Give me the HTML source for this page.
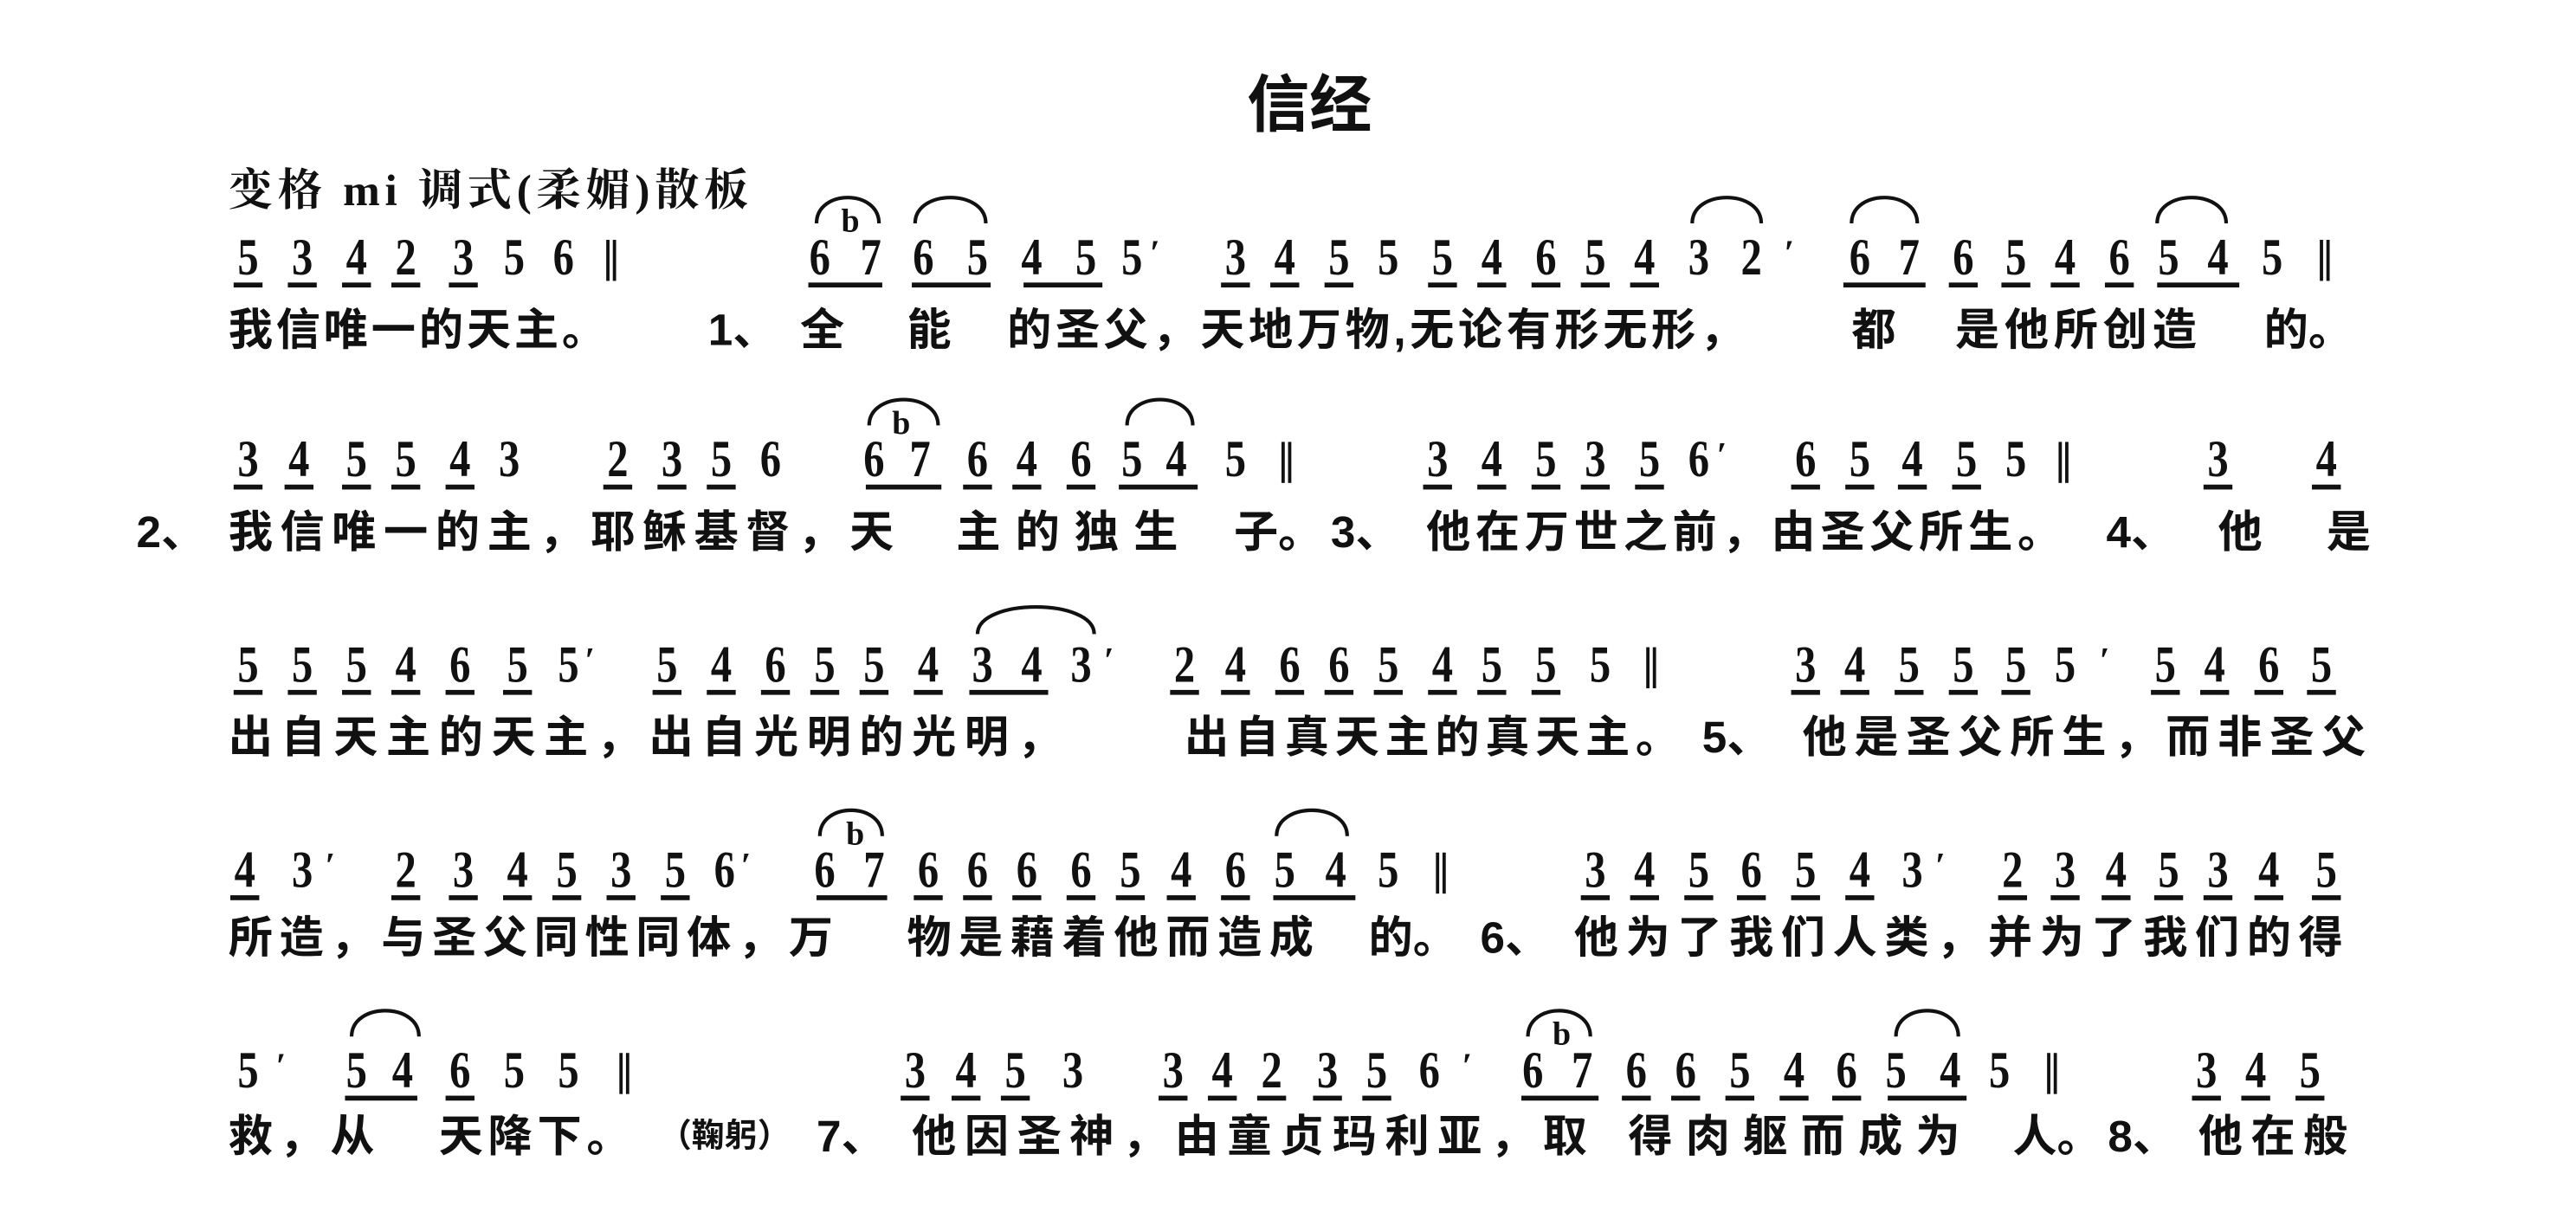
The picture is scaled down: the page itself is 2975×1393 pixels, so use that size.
<!DOCTYPE html>
<html><head><meta charset="utf-8">
<style>
html,body{margin:0;padding:0;background:#fff;width:2975px;height:1392px;overflow:hidden}
.s{position:absolute;left:0;top:0;width:1568px;height:734px;transform:scale(1.8974);transform-origin:0 0;color:#111}
.r{position:absolute;left:0;width:1568px;height:0}
.n{position:absolute;top:-17px;width:22px;margin-left:-11px;text-align:center;font:bold 32px/31px "Liberation Serif",serif;height:31px;transform:scaleX(.8)}
.u{border-bottom:3px solid #111}
.p{position:absolute;top:-17px;font:bold 22px/26px "Liberation Serif",serif}
.bar{position:absolute;top:-12px;width:6px;height:25px;border-left:2px solid #111;border-right:2px solid #111;margin-left:-4px;box-sizing:border-box}
.g{position:absolute;top:14px;height:2.6px;background:#111}
.b{position:absolute;top:-33px;font:bold 20px/20px "Liberation Serif",serif;margin-left:-5px}
.y{position:absolute;top:-15px;font:bold 27px/30px "Liberation Sans","Noto Sans CJK SC",sans-serif;white-space:nowrap}
svg{position:absolute;left:0;top:0}
</style></head><body>
<div class="s">
<div style="position:absolute;left:759px;top:42px;font:bold 38px/46px 'Liberation Sans','Noto Sans CJK SC',sans-serif">信经</div>
<div style="position:absolute;left:139px;top:101px;font:bold 27px/30px 'Liberation Serif','Noto Serif CJK SC',serif;letter-spacing:3px;white-space:nowrap">变格 mi 调式(柔媚)散板</div>

<svg width="1568" height="734" fill="none" stroke="#111" stroke-width="2.2">
<path d="M497 136 C497 115,535 115,535 136"/>
<path d="M557 136 C557 115,600 115,600 136"/>
<path d="M1030 136 C1030 115,1072 115,1072 136"/>
<path d="M1127 136 C1127 115,1167 115,1167 136"/>
<path d="M1313 136 C1313 115,1355 115,1355 136"/>
<path d="M529 259 C529 238,571 238,571 259"/>
<path d="M686 259 C686 238,726 238,726 259"/>
<path d="M595 386 C595 364,666 364,666 386"/>
<path d="M499 509 C499 488,537 488,537 509"/>
<path d="M777 509 C777 488,820 488,820 509"/>
<path d="M214 631 C214 610,255 610,255 631"/>
<path d="M930 631 C930 610,968 610,968 631"/>
<path d="M1154 631 C1154 610,1192 610,1192 631"/>
</svg>

<!-- ROW 1 -->
<div class="r" style="top:158px">
<span class="n u" style="left:151px">5</span><span class="n u" style="left:184px">3</span><span class="n u" style="left:217px">4</span><span class="n u" style="left:247px">2</span><span class="n u" style="left:282px">3</span><span class="n" style="left:313px">5</span><span class="n" style="left:343px">6</span><span class="bar" style="left:373px"></span>
<span class="n" style="left:499px">6</span><span class="b" style="left:517px">b</span><span class="n" style="left:530px">7</span><div class="g" style="left:492px;width:45px"></div>
<span class="n" style="left:562px">6</span><span class="n" style="left:595px">5</span><div class="g" style="left:555px;width:48px"></div>
<span class="n" style="left:628px">4</span><span class="n" style="left:661px">5</span><div class="g" style="left:623px;width:48px"></div>
<span class="n" style="left:689px">5</span><span class="p" style="left:700px">′</span>
<span class="n u" style="left:752px">3</span><span class="n u" style="left:782px">4</span><span class="n u" style="left:815px">5</span><span class="n" style="left:845px">5</span><span class="n u" style="left:878px">5</span><span class="n u" style="left:908px">4</span><span class="n u" style="left:941px">6</span><span class="n u" style="left:971px">5</span><span class="n u" style="left:1001px">4</span><span class="n" style="left:1034px">3</span><span class="n" style="left:1066px">2</span><span class="p" style="left:1086px">′</span>
<span class="n" style="left:1132px">6</span><span class="n" style="left:1162px">7</span><div class="g" style="left:1122px;width:50px"></div>
<span class="n u" style="left:1195px">6</span><span class="n u" style="left:1227px">5</span><span class="n u" style="left:1257px">4</span><span class="n u" style="left:1290px">6</span><span class="n" style="left:1320px">5</span><span class="n" style="left:1350px">4</span><div class="g" style="left:1313px;width:50px"></div><span class="n" style="left:1383px">5</span><span class="bar" style="left:1416px"></span>
</div>
<div class="r" style="top:201px">
<span class="y" style="left:139px;letter-spacing:2px">我信唯一的天主。</span>
<span class="y" style="left:431px">1、</span><span class="y" style="left:487px">全</span><span class="y" style="left:552px">能</span>
<span class="y" style="left:613px;letter-spacing:2.4px">的圣父，天地万物,无论有形无形，</span>
<span class="y" style="left:1127px">都</span><span class="y" style="left:1190px;letter-spacing:3px">是他所创造</span><span class="y" style="left:1378px">的。</span>
</div>

<!-- ROW 2 -->
<div class="r" style="top:281px">
<span class="n u" style="left:151px">3</span><span class="n u" style="left:182px">4</span><span class="n u" style="left:217px">5</span><span class="n u" style="left:247px">5</span><span class="n u" style="left:280px">4</span><span class="n" style="left:310px">3</span>
<span class="n u" style="left:376px">2</span><span class="n u" style="left:409px">3</span><span class="n u" style="left:439px">5</span><span class="n" style="left:469px">6</span>
<span class="n" style="left:532px">6</span><span class="b" style="left:548px">b</span><span class="n" style="left:560px">7</span><div class="g" style="left:527px;width:46px"></div>
<span class="n u" style="left:595px">6</span><span class="n u" style="left:625px">4</span><span class="n u" style="left:658px">6</span>
<span class="n" style="left:689px">5</span><span class="n" style="left:716px">4</span><div class="g" style="left:681px;width:48px"></div><span class="n" style="left:752px">5</span><span class="bar" style="left:784px"></span>
<span class="n u" style="left:875px">3</span><span class="n u" style="left:908px">4</span><span class="n u" style="left:941px">5</span><span class="n u" style="left:971px">3</span><span class="n u" style="left:1004px">5</span><span class="n" style="left:1034px">6</span><span class="p" style="left:1045px">′</span>
<span class="n u" style="left:1099px">6</span><span class="n u" style="left:1132px">5</span><span class="n u" style="left:1164px">4</span><span class="n u" style="left:1197px">5</span><span class="n" style="left:1227px">5</span><span class="bar" style="left:1257px"></span>
<span class="n u" style="left:1350px">3</span><span class="n u" style="left:1416px">4</span>
</div>
<div class="r" style="top:324px">
<span class="y" style="left:83px">2、</span>
<span class="y" style="left:139px;letter-spacing:4.5px">我信唯一的主，耶稣基督，天</span>
<span class="y" style="left:582px;letter-spacing:9px">主的独生</span>
<span class="y" style="left:751px">子。</span><span class="y" style="left:810px">3、</span>
<span class="y" style="left:868px;letter-spacing:3px">他在万世之前，由圣父所生。</span>
<span class="y" style="left:1282px">4、</span><span class="y" style="left:1350px">他</span><span class="y" style="left:1416px">是</span>
</div>

<!-- ROW 3 -->
<div class="r" style="top:406px">
<span class="n u" style="left:151px">5</span><span class="n u" style="left:184px">5</span><span class="n u" style="left:217px">5</span><span class="n u" style="left:247px">4</span><span class="n u" style="left:280px">6</span><span class="n u" style="left:315px">5</span><span class="n" style="left:346px">5</span><span class="p" style="left:356px">′</span>
<span class="n u" style="left:406px">5</span><span class="n u" style="left:439px">4</span><span class="n u" style="left:472px">6</span><span class="n u" style="left:502px">5</span><span class="n u" style="left:532px">5</span><span class="n u" style="left:565px">4</span>
<span class="n" style="left:598px">3</span><span class="n" style="left:628px">4</span><div class="g" style="left:590px;width:48px"></div><span class="n" style="left:658px">3</span><span class="p" style="left:672px">′</span>
<span class="n u" style="left:721px">2</span><span class="n u" style="left:752px">4</span><span class="n u" style="left:785px">6</span><span class="n u" style="left:815px">6</span><span class="n u" style="left:845px">5</span><span class="n u" style="left:878px">4</span><span class="n u" style="left:908px">5</span><span class="n u" style="left:941px">5</span><span class="n" style="left:974px">5</span><span class="bar" style="left:1006px"></span>
<span class="n u" style="left:1099px">3</span><span class="n u" style="left:1129px">4</span><span class="n u" style="left:1162px">5</span><span class="n u" style="left:1195px">5</span><span class="n u" style="left:1227px">5</span><span class="n" style="left:1257px">5</span><span class="p" style="left:1278px">′</span>
<span class="n u" style="left:1318px">5</span><span class="n u" style="left:1348px">4</span><span class="n u" style="left:1381px">6</span><span class="n u" style="left:1413px">5</span>
</div>
<div class="r" style="top:449px">
<span class="y" style="left:139px;letter-spacing:5px">出自天主的天主，出自光明的光明，</span>
<span class="y" style="left:721px;letter-spacing:3.5px">出自真天主的真天主。</span>
<span class="y" style="left:1036px">5、</span>
<span class="y" style="left:1097px;letter-spacing:4.6px">他是圣父所生，而非圣父</span>
</div>

<!-- ROW 4 -->
<div class="r" style="top:531px">
<span class="n u" style="left:149px">4</span><span class="n" style="left:184px">3</span><span class="p" style="left:198px">′</span>
<span class="n u" style="left:247px">2</span><span class="n u" style="left:282px">3</span><span class="n u" style="left:315px">4</span><span class="n u" style="left:345px">5</span><span class="n u" style="left:378px">3</span><span class="n u" style="left:411px">5</span><span class="n" style="left:441px">6</span><span class="p" style="left:451px">′</span>
<span class="n" style="left:502px">6</span><span class="b" style="left:520px">b</span><span class="n" style="left:532px">7</span><div class="g" style="left:497px;width:43px"></div>
<span class="n u" style="left:565px">6</span><span class="n u" style="left:595px">6</span><span class="n u" style="left:625px">6</span><span class="n u" style="left:658px">6</span><span class="n u" style="left:688px">5</span><span class="n u" style="left:719px">4</span><span class="n u" style="left:752px">6</span>
<span class="n" style="left:782px">5</span><span class="n" style="left:813px">4</span><div class="g" style="left:775px;width:50px"></div><span class="n" style="left:845px">5</span><span class="bar" style="left:878px"></span>
<span class="n u" style="left:971px">3</span><span class="n u" style="left:1001px">4</span><span class="n u" style="left:1034px">5</span><span class="n u" style="left:1066px">6</span><span class="n u" style="left:1099px">5</span><span class="n u" style="left:1132px">4</span><span class="n" style="left:1164px">3</span><span class="p" style="left:1178px">′</span>
<span class="n u" style="left:1225px">2</span><span class="n u" style="left:1257px">3</span><span class="n u" style="left:1288px">4</span><span class="n u" style="left:1320px">5</span><span class="n u" style="left:1350px">3</span><span class="n u" style="left:1381px">4</span><span class="n u" style="left:1416px">5</span>
</div>
<div class="r" style="top:571px">
<span class="y" style="left:139px;letter-spacing:4px">所造，与圣父同性同体，万</span>
<span class="y" style="left:552px;letter-spacing:4.5px">物是藉着他而造成</span>
<span class="y" style="left:833px">的。</span><span class="y" style="left:901px">6、</span>
<span class="y" style="left:958px;letter-spacing:4.5px">他为了我们人类，并为了我们的得</span>
</div>

<!-- ROW 5 -->
<div class="r" style="top:653px">
<span class="n" style="left:151px">5</span><span class="p" style="left:168px">′</span>
<span class="n" style="left:217px">5</span><span class="n" style="left:245px">4</span><div class="g" style="left:210px;width:44px"></div>
<span class="n u" style="left:280px">6</span><span class="n" style="left:313px">5</span><span class="n" style="left:346px">5</span><span class="bar" style="left:381px"></span>
<span class="n u" style="left:557px">3</span><span class="n u" style="left:588px">4</span><span class="n u" style="left:618px">5</span><span class="n" style="left:653px">3</span>
<span class="n u" style="left:714px">3</span><span class="n u" style="left:744px">4</span><span class="n u" style="left:774px">2</span><span class="n u" style="left:808px">3</span><span class="n u" style="left:838px">5</span><span class="n" style="left:870px">6</span><span class="p" style="left:890px">′</span>
<span class="n" style="left:933px">6</span><span class="b" style="left:950px">b</span><span class="n" style="left:963px">7</span><div class="g" style="left:926px;width:47px"></div>
<span class="n u" style="left:996px">6</span><span class="n u" style="left:1026px">6</span><span class="n u" style="left:1059px">5</span><span class="n u" style="left:1092px">4</span><span class="n u" style="left:1124px">6</span>
<span class="n" style="left:1154px">5</span><span class="n" style="left:1187px">4</span><div class="g" style="left:1149px;width:48px"></div><span class="n" style="left:1217px">5</span><span class="bar" style="left:1250px"></span>
<span class="n u" style="left:1343px">3</span><span class="n u" style="left:1373px">4</span><span class="n u" style="left:1406px">5</span>
</div>
<div class="r" style="top:692px">
<span class="y" style="left:139px;letter-spacing:4px">救，从</span>
<span class="y" style="left:267px;letter-spacing:3px">天降下。</span>
<span class="y" style="left:401px;font-size:20px;letter-spacing:0px">（鞠躬）</span>
<span class="y" style="left:497px">7、</span>
<span class="y" style="left:555px;letter-spacing:5px">他因圣神，由童贞玛利亚，取</span>
<span class="y" style="left:991px;letter-spacing:8px">得肉躯而成为</span>
<span class="y" style="left:1225px">人。</span><span class="y" style="left:1283px">8、</span>
<span class="y" style="left:1338px;letter-spacing:5px">他在般</span>
</div>
</div>
</body></html>
